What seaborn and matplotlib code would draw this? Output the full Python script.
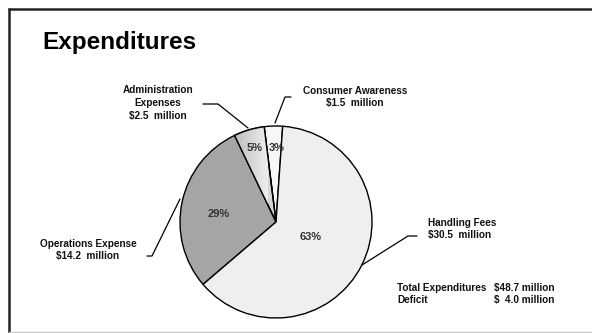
import numpy as np
import matplotlib
matplotlib.use("Agg")
import matplotlib.pyplot as plt
import seaborn as sns
from matplotlib.patches import Wedge

# Expenditure breakdown (millions of dollars), in counter-clockwise drawing order
categories = ["Consumer Awareness", "Administration Expenses", "Operations Expense", "Handling Fees"]
amounts = [1.5, 2.5, 14.2, 30.5]
pct_labels = ["3%", "5%", "29%", "63%"]
slice_colors = ["#F7F7F7", "#D6D6D6", "#A5A5A5", "#EFEFEF"]
total_expenditures = 48.7
deficit = 4.0

sns.set_theme(style="white")
plt.rcParams["font.family"] = ["Liberation Sans", "DejaVu Sans"]

W, H = 592, 333
fig = plt.figure(figsize=(W / 100, H / 100), dpi=100)
ax = fig.add_axes([0, 0, 1, 1])

def py(y):
    # convert a top-down pixel row to the axes' bottom-up coordinate
    return H - y

cx, cy, R = 276, py(222), 96
wedges, _ = ax.pie(amounts, colors=slice_colors, startangle=86, counterclock=True,
                   center=(cx, cy), radius=R,
                   wedgeprops=dict(edgecolor="black", linewidth=1.0))
ax.set_xlim(0, W)
ax.set_ylim(0, H)
ax.set_aspect("equal")
ax.axis("off")

# shaded fill for the administration slice
adm = wedges[1]
grad = np.linspace(0, 1, 256)[None, :]
img = ax.imshow(grad, cmap=matplotlib.colors.LinearSegmentedColormap.from_list(
    "g", ["#B8B8B8", "#EEEEEE"]), extent=(cx - 45, cx - 8, cy, cy + R),
    aspect="auto", zorder=adm.get_zorder() + 0.1, interpolation="bilinear")
img.set_clip_path(adm)
outline = Wedge((cx, cy), R, adm.theta1, adm.theta2, facecolor="none",
                edgecolor="black", linewidth=1.0, zorder=adm.get_zorder() + 0.2)
ax.add_patch(outline)
ax.set_xlim(0, W)
ax.set_ylim(0, H)

# percentage labels inside the slices (angle nudge in degrees, radial fraction)
pct_nudge = [-2.4, 0.0, 4.0, 3.0]
pct_dist = [0.77, 0.80, 0.60, 0.39]
for w, lab, da, d in zip(wedges, pct_labels, pct_nudge, pct_dist):
    ang = np.deg2rad((w.theta1 + w.theta2) / 2 + da)
    ax.text(cx + d * R * np.cos(ang), cy + d * R * np.sin(ang), lab,
            ha="center", va="center", fontsize=8, fontweight="bold", color="#333333",
            zorder=5)

txt = dict(fontsize=7.2, fontweight="bold", color="#111111")

# category labels with leader lines
ax.text(158, py(103), "Administration\nExpenses\n$2.5  million", ha="center", va="center",
        linespacing=1.35, **txt)
ax.plot([203, 218, 248], [py(104), py(104), py(128)], color="black", lw=0.9)

ax.text(355, py(97), "Consumer Awareness\n$1.5  million", ha="center", va="center",
        linespacing=1.35, **txt)
ax.plot([275, 285, 291], [py(123), py(97), py(97)], color="black", lw=0.9)

ax.text(88, py(250), "Operations Expense\n$14.2  million", ha="center", va="center",
        linespacing=1.35, **txt)
ax.plot([147, 152, 180], [py(256), py(256), py(199)], color="black", lw=0.9)

ax.text(428, py(229), "Handling Fees\n$30.5  million", ha="left", va="center",
        linespacing=1.35, **txt)
ax.plot([417, 408, 362], [py(236), py(236), py(265)], color="black", lw=0.9)

# totals
ax.text(397, py(288), "Total Expenditures", ha="left", va="center", **txt)
ax.text(494, py(288), f"${total_expenditures:.1f} million", ha="left", va="center", **txt)
ax.text(397, py(300), "Deficit", ha="left", va="center", **txt)
ax.text(494, py(300), f"$  {deficit:.1f} million", ha="left", va="center", **txt)

# title
ax.text(42, py(43), "Expenditures", ha="left", va="center", fontsize=17.5,
        fontweight="bold", color="black")

# slide frame
ax.plot([8, W], [py(9), py(9)], color="#222222", lw=1.8, solid_capstyle="butt")
ax.plot([9, 9], [py(8), 0], color="#222222", lw=1.8, solid_capstyle="butt")
ax.plot([9, W], [py(331.5), py(331.5)], color="#C8C8C8", lw=1.0)

fig.savefig("out.png", dpi=100)
